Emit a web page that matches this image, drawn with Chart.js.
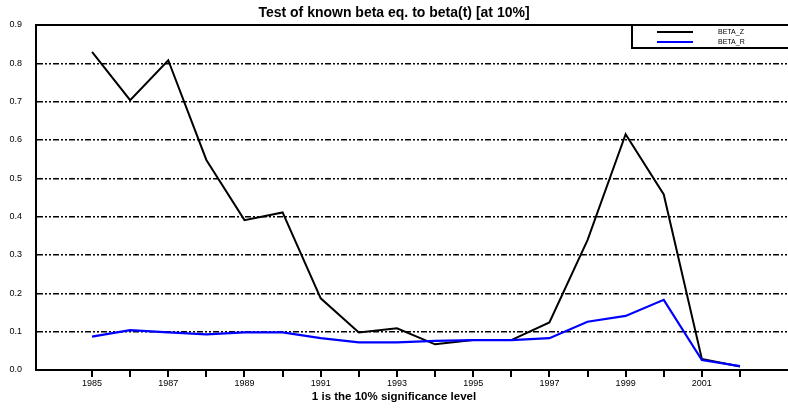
<!DOCTYPE html>
<html><head><meta charset="utf-8">
<script src="https://cdn.jsdelivr.net/npm/chart.js@4.4.0/dist/chart.umd.min.js"></script>
<style>html,body{margin:0;padding:0;background:#fff}canvas{display:block}</style>
</head><body>
<canvas id="c" width="788" height="409"></canvas>
<script>
const years = [1985,1986,1987,1988,1989,1990,1991,1992,1993,1994,1995,1996,1997,1998,1999,2000,2001,2002];
const betaZ = [0.830,0.704,0.808,0.548,0.391,0.411,0.187,0.098,0.109,0.067,0.078,0.078,0.124,0.339,0.615,0.458,0.029,0.009];
const betaR = [0.087,0.104,0.098,0.093,0.098,0.098,0.083,0.072,0.072,0.076,0.078,0.078,0.083,0.126,0.141,0.183,0.026,0.010];
const labeledYears = [1985,1987,1989,1991,1993,1995,1997,1999,2001];
const yTickValues = [0,0.1,0.2,0.3,0.4,0.5,0.6,0.7,0.8,0.9];
const seriesNames = ['BETA_Z','BETA_R'];
const titleText = 'Test of known beta eq. to beta(t) [at 10%]';
const xTitleText = '1 is the 10% significance level';

const FONT = "'Liberation Sans', Arial, Helvetica, sans-serif";
Chart.defaults.font.family = FONT;
Chart.defaults.color = '#000';

const topBorder = {
  id: 'topBorder',
  beforeDatasetsDraw(chart) {
    const ctx = chart.ctx, a = chart.chartArea;
    const y = chart.scales.y.getPixelForValue(yTickValues[yTickValues.length-1]);
    ctx.save();
    ctx.strokeStyle = '#000'; ctx.lineWidth = 2;
    ctx.beginPath(); ctx.moveTo(a.left - 1, y); ctx.lineTo(a.right, y); ctx.stroke();
    ctx.restore();
  }
};

const boxLegend = {
  id: 'boxLegend',
  afterDraw(chart) {
    const ctx = chart.ctx, a = chart.chartArea;
    const left = a.right - 156, top = a.top, h = 23;
    ctx.save();
    ctx.fillStyle = '#fff';
    ctx.fillRect(left, top, a.right - left, h);
    ctx.strokeStyle = '#000'; ctx.lineWidth = 2;
    ctx.beginPath();
    ctx.moveTo(left, top); ctx.lineTo(left, top + h); ctx.lineTo(a.right + 2, top + h);
    ctx.moveTo(left, top); ctx.lineTo(a.right + 2, top);
    ctx.stroke();
    chart.data.datasets.forEach((ds, i) => {
      const y = top + 7 + i * 10;
      ctx.strokeStyle = ds.borderColor; ctx.lineWidth = 2;
      ctx.beginPath(); ctx.moveTo(left + 25, y); ctx.lineTo(left + 61, y); ctx.stroke();
      ctx.fillStyle = '#000';
      ctx.font = '7px ' + FONT;
      ctx.textBaseline = 'middle'; ctx.textAlign = 'left';
      ctx.fillText(ds.label, left + 86, y);
    });
    ctx.restore();
  }
};

new Chart(document.getElementById('c'), {
  type: 'line',
  data: {
    datasets: [
      { label: seriesNames[0], data: years.map((x, i) => ({x, y: betaZ[i]})), borderColor: '#000000', borderWidth: 2, pointRadius: 0, tension: 0, order: 2 },
      { label: seriesNames[1], data: years.map((x, i) => ({x, y: betaR[i]})), borderColor: '#0000ff', borderWidth: 2.2, pointRadius: 0, tension: 0, order: 1 }
    ]
  },
  options: {
    responsive: false,
    animation: false,
    devicePixelRatio: 1,
    layout: { padding: { left: 0, right: 0, top: 0, bottom: 0 } },
    plugins: {
      legend: { display: false },
      tooltip: { enabled: false },
      title: { display: true, text: titleText, font: { size: 14, weight: 'bold' }, padding: { top: 4.6, bottom: 3.6 } },
      subtitle: { display: true, position: 'bottom', text: xTitleText, font: { size: 11.5, weight: 'bold' }, padding: { top: 2, bottom: 5.2 } }
    },
    scales: {
      x: {
        type: 'linear',
        min: 1983.53,
        max: 2003.26,
        afterBuildTicks: (s) => { s.ticks = years.map(v => ({ value: v })); },
        afterFit: (s) => { s.height = 18; },
        ticks: {
          autoSkip: false, maxRotation: 0, font: { size: 9 }, padding: 1,
          callback: (v) => labeledYears.includes(v) ? String(v) : ''
        },
        grid: { drawOnChartArea: false, drawTicks: true, tickLength: 7, color: '#000', lineWidth: 2 },
        border: { display: true, color: '#000', width: 2 }
      },
      y: {
        min: 0, max: 0.9,
        afterBuildTicks: (s) => { s.ticks = yTickValues.map(v => ({ value: v })); },
        afterFit: (s) => { s.width = 36; },
        ticks: { font: { size: 9 }, padding: 14, callback: (v) => Number(v).toFixed(1) },
        grid: {
          drawTicks: false,
          lineWidth: 1.5,
          color: (c) => (c.tick && c.tick.value > 0.01 && c.tick.value < 0.85) ? '#000' : 'rgba(0,0,0,0)'
        },
        border: { display: true, color: '#000', width: 2, dash: [6, 2, 2, 2, 2, 2] }
      }
    }
  },
  plugins: [topBorder, boxLegend]
});
</script>
</body></html>
